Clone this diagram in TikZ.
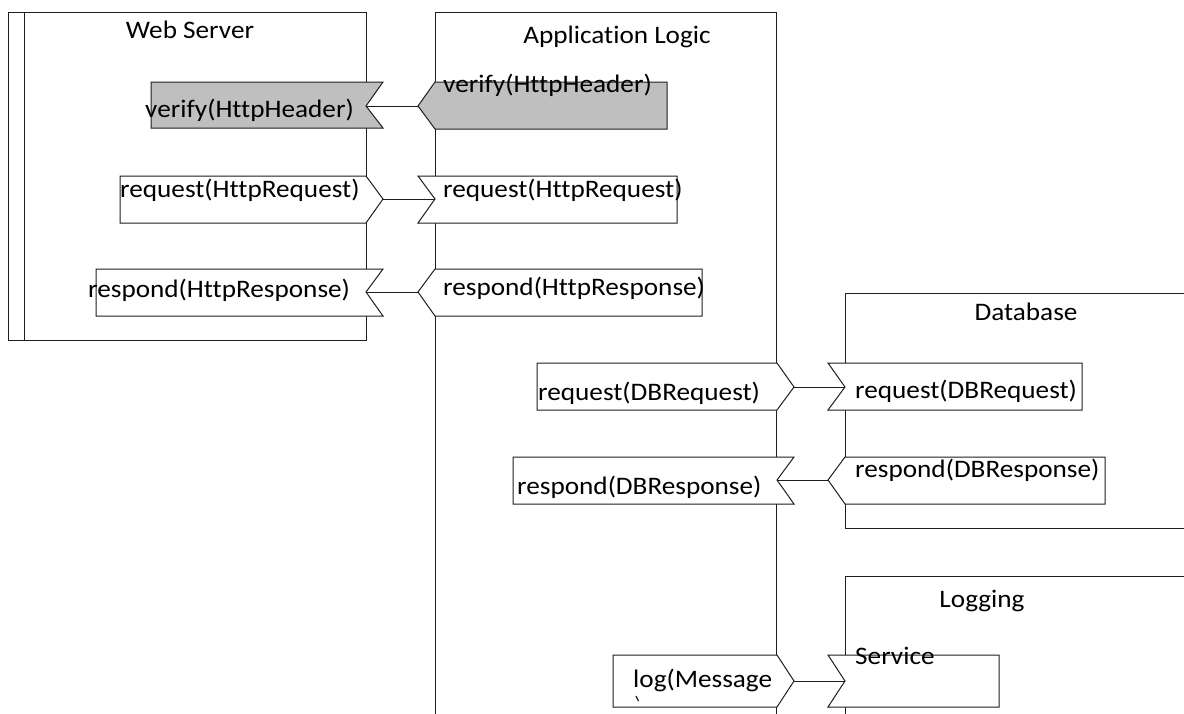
\documentclass[tikz,border=0pt]{standalone}
\usepackage{fontspec}
\setmainfont{Carlito}[FakeStretch=1.08,Ligatures={NoCommon}]
\definecolor{portgray}{RGB}{191,191,191}
\definecolor{edge}{RGB}{30,30,30}
\begin{document}
\begin{tikzpicture}[x=1pt,y=-1pt,
  box/.style={draw=edge,line width=1pt},
  port/.style={draw=edge,line width=1pt,fill=white},
  gport/.style={draw=edge,line width=1pt,fill=portgray},
  wire/.style={draw=edge,line width=1pt},
  lbl/.style={inner sep=0pt,font=\fontsize{25.2}{29}\selectfont,anchor=base west},
  ttl/.style={inner sep=0pt,font=\fontsize{25.2}{29}\selectfont,anchor=base}]
\useasboundingbox (0,0) rectangle (1184,713);
\fill[white] (0,0) rectangle (1184,713);
\begin{scope}
\clip (0,0) rectangle (1184,713);

% component frames
\draw[box] (8,12) rectangle (366,340);
\draw[box] (24,12) -- (24,340);
\draw[box] (435,12) rectangle (776,730);
\draw[box] (845,293) rectangle (1200,528);
\draw[box] (845,576) rectangle (1200,730);

\node[ttl] (wsT) at (190,38) {Web Server};
\node[ttl] (alT) at (617,43) {Application Logic};
\node[ttl] (dbT) at (1026,320) {Database};
\node[ttl] (lgT) at (982,607) {Logging};

% Web Server ports
\draw[gport] (151,82) -- (383,82) -- (366,106) -- (383,128) -- (151,128) -- cycle;
\coordinate (wsV) at (366,106);
\draw[port] (120,176) -- (366,176) -- (383,199) -- (366,223) -- (120,223) -- cycle;
\coordinate (wsQ) at (383,199);
\draw[port] (96,269) -- (383,269) -- (366,292) -- (383,316) -- (96,316) -- cycle;
\coordinate (wsR) at (366,292);

% Application Logic ports
\draw[gport] (435,82) -- (667,82) -- (667,129) -- (435,129) -- (418,106) -- cycle;
\coordinate (alV) at (418,106);
\draw[port] (418,176) -- (677,176) -- (677,223) -- (418,223) -- (435,199) -- cycle;
\coordinate (alQ) at (435,199);
\draw[port] (435,269) -- (702,269) -- (702,316) -- (435,316) -- (418,292) -- cycle;
\coordinate (alR) at (418,292);
\draw[port] (537,363) -- (777,363) -- (794,387) -- (777,410) -- (537,410) -- cycle;
\coordinate (alDQ) at (794,387);
\draw[port] (513,457) -- (794,457) -- (777,480) -- (794,504) -- (513,504) -- cycle;
\coordinate (alDR) at (777,480);
\draw[port] (613,655) -- (777,655) -- (794,681) -- (777,707) -- (613,707) -- cycle;
\coordinate (alL) at (794,681);

% Database ports
\draw[port] (828,363) -- (1082,363) -- (1082,410) -- (828,410) -- (845,387) -- cycle;
\coordinate (dbQ) at (845,387);
\draw[port] (845,457) -- (1105,457) -- (1105,504) -- (845,504) -- (828,480) -- cycle;
\coordinate (dbR) at (828,480);

% Logging port
\draw[port] (828,655) -- (999,655) -- (999,707) -- (828,707) -- (845,681) -- cycle;
\coordinate (lgS) at (845,681);

% connectors
\draw[wire] (wsV) -- (alV);
\draw[wire] (wsQ) -- (alQ);
\draw[wire] (wsR) -- (alR);
\draw[wire] (alDQ) -- (dbQ);
\draw[wire] (alDR) -- (dbR);
\draw[wire] (alL) -- (lgS);

% port labels
\node[lbl] (l1) at (145,117) {verify(HttpHeader)};
\node[lbl] (l2) at (120,197) {request(HttpRequest)};
\node[lbl] (l3) at (88,297) {respond(HttpResponse)};
\node[lbl] (l4) at (443,92) {verify(HttpHeader)};
\node[lbl] (l5) at (443,197) {request(HttpRequest)};
\node[lbl] (l6) at (443,295) {respond(HttpResponse)};
\node[lbl] (l7) at (538,400) {request(DBRequest)};
\node[lbl] (l8) at (517,494) {respond(DBResponse)};
\node[lbl] (l9) at (855,398) {request(DBRequest)};
\node[lbl] (l10) at (855,477) {respond(DBResponse)};
\node[lbl] (l11) at (633,687) {log(Message};
\node[lbl] (l13) at (855,664) {Service};
% top of the wrapped closing parenthesis, cut off by the port frame
\draw[edge,line width=1.2pt] (636,696) -- (638.5,701);
\end{scope}
\end{tikzpicture}
\end{document}
